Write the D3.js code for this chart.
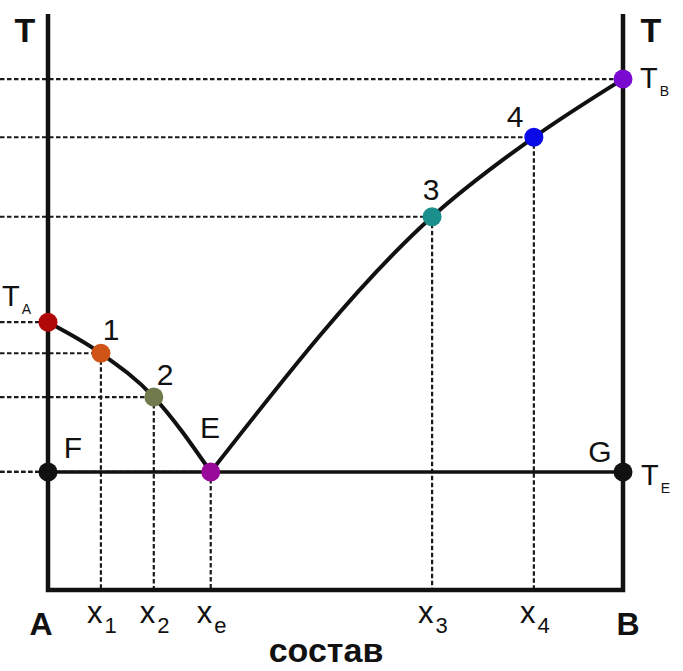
<!DOCTYPE html>
<html>
<head>
<meta charset="utf-8">
<script src="https://cdn.jsdelivr.net/npm/d3@7"></script>
<style>
  body { margin: 0; background: #fff; }
  text { font-family: "Liberation Sans", Arial, sans-serif; fill: #111; }
</style>
</head>
<body>
<div id="chart"></div>
<script>
// composition (0 = A, 100 = B) and temperature of the marked points
var pointNames = ["TA", "1", "2", "E", "3", "4", "TB"];
var composition = [0, 9.2, 18.4, 28.3, 66.8, 84.5, 100];
var temperature = [46.5, 41.1, 33.5, 20.5, 64.8, 78.6, 88.7];
var pointColors = ["#b00808", "#cf5418", "#6f7b4c", "#9a0a9a", "#1b8f8b", "#0a0ae8", "#7a0ad0"];

// bottom labels: [text, subscript, composition]
var bottomLabels = [["x", "1", 9.2], ["x", "2", 18.4], ["x", "e", 28.3], ["x", "3", 66.8], ["x", "4", 84.5]];
var eutecticT = 20.5;

function init() {
    var w = 683, h = 671;

    var xScale = d3.scaleLinear().domain([0, 100]).range([48, 623]);
    var yScale = d3.scaleLinear().domain([0, 100]).range([590, 14]);

    var svg = d3.select("#chart").append("svg")
        .attr("width", w)
        .attr("height", h);

    var pts = pointNames.map(function(n, i) {
        return { name: n, x: composition[i], t: temperature[i], color: pointColors[i] };
    });

    var dash = svg.append("g")
        .attr("stroke", "#1a1a1a")
        .attr("stroke-width", 2.2)
        .attr("stroke-dasharray", "4.5,2.5")
        .attr("fill", "none");

    // horizontal dashed lines from the left edge
    var hLines = pts.concat([{ x: 0, t: eutecticT }]);
    dash.selectAll("line.h")
        .data(hLines)
        .enter().append("line")
        .attr("x1", 0)
        .attr("x2", function(d) { return xScale(d.x); })
        .attr("y1", function(d) { return yScale(d.t); })
        .attr("y2", function(d) { return yScale(d.t); });

    // vertical dashed lines down to the composition axis
    dash.selectAll("line.v")
        .data(pts.filter(function(d) { return d.x > 0 && d.x < 100; }))
        .enter().append("line")
        .attr("x1", function(d) { return xScale(d.x); })
        .attr("x2", function(d) { return xScale(d.x); })
        .attr("y1", function(d) { return yScale(d.t); })
        .attr("y2", yScale(0));

    // frame: two temperature axes and composition axis
    var frame = svg.append("g").attr("stroke", "#111").attr("stroke-width", 4.5).attr("fill", "none");
    frame.append("path")
        .attr("d", "M" + xScale(0) + "," + yScale(100) + "V" + yScale(0) + "H" + xScale(100) + "V" + yScale(100));

    // eutectic horizontal F-G
    frame.append("line")
        .attr("x1", xScale(0)).attr("x2", xScale(100))
        .attr("y1", yScale(eutecticT)).attr("y2", yScale(eutecticT))
        .attr("stroke-width", 3.5);

    // liquidus curves
    var line = d3.line()
        .x(function(d) { return xScale(d.x); })
        .y(function(d) { return yScale(d.t); })
        .curve(d3.curveMonotoneX);

    svg.append("path").datum(pts.slice(0, 4))
        .attr("d", line).attr("fill", "none").attr("stroke", "#111").attr("stroke-width", 4);
    svg.append("path").datum(pts.slice(3))
        .attr("d", line).attr("fill", "none").attr("stroke", "#111").attr("stroke-width", 4);

    // points F and G plus coloured points
    var allPts = [{ x: 0, t: eutecticT, color: "#111" }, { x: 100, t: eutecticT, color: "#111" }].concat(pts);
    svg.selectAll("circle")
        .data(allPts)
        .enter().append("circle")
        .attr("cx", function(d) { return xScale(d.x); })
        .attr("cy", function(d) { return yScale(d.t); })
        .attr("r", 9.5)
        .attr("fill", function(d) { return d.color; });

    // point labels
    var labels = [["1", 111, 340], ["2", 165, 385], ["3", 431, 200], ["4", 515, 127],
                  ["E", 210, 438], ["F", 73, 458], ["G", 600, 462]];
    svg.selectAll("text.pl")
        .data(labels)
        .enter().append("text")
        .attr("class", "pl")
        .attr("x", function(d) { return d[1]; })
        .attr("y", function(d) { return d[2]; })
        .attr("text-anchor", "middle")
        .attr("font-size", 30)
        .text(function(d) { return d[0]; });

    // axis titles T
    svg.append("text").attr("x", 25).attr("y", 42).attr("text-anchor", "middle")
        .attr("font-size", 34).attr("font-weight", "bold").text("T");
    svg.append("text").attr("x", 651).attr("y", 42).attr("text-anchor", "middle")
        .attr("font-size", 34).attr("font-weight", "bold").text("T");

    // temperature labels with subscripts
    function tLabel(x, y, sub) {
        var t = svg.append("text").attr("x", x).attr("y", y).attr("font-size", 29);
        t.append("tspan").text("T");
        t.append("tspan").attr("font-size", 14).attr("dy", 8).attr("dx", 2).text(sub);
    }
    tLabel(2, 306, "A");
    tLabel(640, 88, "B");
    tLabel(641, 485, "E");

    // composition labels
    svg.append("text").attr("x", xScale(0) - 7).attr("y", 635).attr("text-anchor", "middle")
        .attr("font-size", 32).attr("font-weight", "bold").text("A");
    svg.append("text").attr("x", xScale(100) + 5).attr("y", 635).attr("text-anchor", "middle")
        .attr("font-size", 32).attr("font-weight", "bold").text("B");

    var bl = svg.selectAll("text.bl")
        .data(bottomLabels)
        .enter().append("text")
        .attr("class", "bl")
        .attr("x", function(d) { return xScale(d[2]) - 14; })
        .attr("y", 623)
        .attr("font-size", 31);
    bl.append("tspan").text(function(d) { return d[0]; });
    bl.append("tspan").attr("font-size", 22).attr("dy", 10).attr("dx", 2)
        .text(function(d) { return d[1]; });

    svg.append("text").attr("x", 326).attr("y", 662).attr("text-anchor", "middle")
        .attr("font-size", 34).attr("font-weight", "bold").text("состав");
}

window.onload = init;
</script>
</body>
</html>
